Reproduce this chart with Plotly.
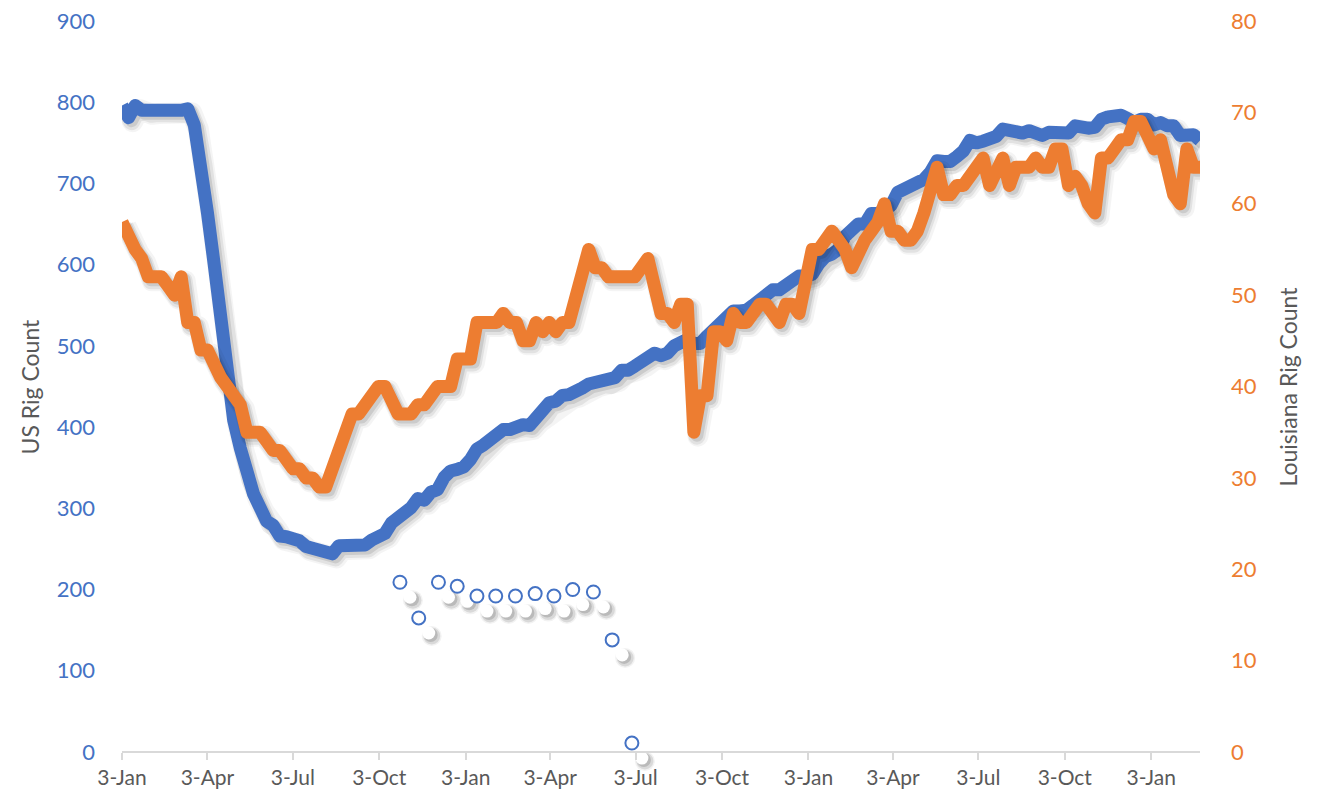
import pandas as pd
import plotly.graph_objects as go

# ---------------- data ----------------
start_date = "2020-01-03"
us_rigs = [
    796, 781, 796, 790, 790, 791, 790, 790, 790, 790, 792, 772, 728, 664, 602, 529,
    465, 408, 374, 339, 318, 301, 284, 279, 266, 265, 263, 260, 253, 251, 251, 247,
    244, 254, 254, 256, 256, 255, 261, 266, 269, 282, 287, 296, 301, 312, 310, 320,
    323, 338, 346, 348, 351, 360, 373, 378, 384, 392, 397, 397, 402, 403, 402, 411,
    417, 430, 432, 439, 440, 442, 448, 453, 455, 457, 456, 461, 470, 470, 475, 479,
    484, 491, 488, 491, 500, 503, 508, 503, 503, 512, 521, 528, 533, 543, 543, 544,
    550, 556, 563, 569, 569, 576, 579, 586, 586, 588, 601, 610, 613, 619, 635, 645,
    650, 650, 663, 663, 670, 673, 689, 693, 695, 698, 705, 714, 728, 727, 727, 733,
    740, 753, 750, 752, 756, 758, 767, 764, 763, 762, 765, 760, 759, 763, 764, 765,
    762, 771, 768, 768, 769, 779, 782, 784, 784, 780, 775, 779, 779, 772, 775, 771,
    771, 759, 761, 760, 753,
]
la_rigs = [
    58, 56, 55, 54, 52, 52, 52, 51, 50, 52, 47, 47, 44, 44, 42, 41,
    40, 39, 38, 35, 35, 35, 34, 33, 33, 32, 31, 31, 30, 30, 29, 29,
    31, 32, 34, 37, 37, 38, 39, 40, 40, 38, 37, 37, 37, 38, 38, 39,
    40, 40, 40, 43, 43, 43, 47, 47, 47, 47, 48, 47, 47, 45, 45, 47,
    46, 47, 46, 47, 47, 50, 53, 55, 53, 53, 52, 52, 52, 52, 52, 53,
    54, 51, 48, 48, 47, 49, 49, 35, 39, 39, 46, 46, 45, 48, 47, 47,
    48, 49, 49, 48, 47, 49, 49, 48, 51, 55, 55, 56, 57, 56, 55, 53,
    55, 56, 57, 58, 60, 57, 57, 56, 56, 57, 59, 62, 64, 61, 61, 62,
    62, 63, 64, 65, 62, 64, 65, 62, 64, 64, 64, 65, 64, 64, 66, 66,
    62, 63, 62, 60, 59, 65, 65, 66, 67, 67, 69, 69, 67, 66, 67, 64,
    61, 60, 66, 64, 64,
]
marker_dates = [
    "2020-10-25", "2020-11-14", "2020-12-05", "2020-12-25", "2021-01-15",
    "2021-02-04", "2021-02-25", "2021-03-18", "2021-04-07", "2021-04-27",
    "2021-05-19", "2021-06-08", "2021-06-29",
]
marker_values = [209, 165, 209, 204, 192, 192, 192, 195, 192, 200, 197, 138, 11]

tick_labels = ["3-Jan", "3-Apr", "3-Jul", "3-Oct", "3-Jan", "3-Apr", "3-Jul",
               "3-Oct", "3-Jan", "3-Apr", "3-Jul", "3-Oct", "3-Jan"]

# ---------------- styles ----------------
BLUE = "#4472C4"
ORANGE = "#ED7D31"
GREY_TXT = "#595959"
AXIS_GREY = "#D9D9D9"
FONT = "Lato, 'Open Sans', sans-serif"

PAGE_OFFSET = 8  # default body margin of the html page
W, H = 1317 - PAGE_OFFSET, 791 - PAGE_OFFSET
AXIS_H = 731        # pixel height from value 0 to the axis maximum
EXTRA_BOTTOM = 28   # plot area continues a little below the zero line
ML, MR, MT = 122 - PAGE_OFFSET, 117, 21 - PAGE_OFFSET
MB = H - MT - AXIS_H - EXTRA_BOTTOM
PW, PH = W - ML - MR, AXIS_H + EXTRA_BOTTOM
LINE_W = 13

dates = pd.date_range(start_date, periods=len(us_rigs), freq="7D")
tick_dates = pd.date_range(start_date, periods=len(tick_labels), freq=pd.DateOffset(months=3))
marker_dt = pd.to_datetime(marker_dates)

Y1_MAX, Y2_MAX = 900, 80
Y1_MIN = -EXTRA_BOTTOM * Y1_MAX / AXIS_H
Y2_MIN = -EXTRA_BOTTOM * Y2_MAX / AXIS_H
x_days = (dates[-1] - dates[0]).days
px_per_day = PW / x_days


def dx(px):
    return pd.Timedelta(days=px / px_per_day)


def dy(px, ymax):
    return px * ymax / AXIS_H


fig = go.Figure()


def add_line_with_shadow(x, y, color, yaxis, ymax):
    yv = pd.Series(y, dtype=float)
    for w, a, ox, oy in [(LINE_W + 8, 0.045, 4, 4), (LINE_W + 4, 0.07, 3, 4), (LINE_W, 0.10, 3, 3)]:
        fig.add_trace(go.Scatter(
            x=x + dx(ox), y=yv - dy(oy, ymax), mode="lines", yaxis=yaxis,
            line=dict(color=f"rgba(0,0,0,{a})", width=w),
            hoverinfo="skip", showlegend=False))
    fig.add_trace(go.Scatter(
        x=x, y=yv, mode="lines", yaxis=yaxis,
        line=dict(color=color, width=LINE_W), showlegend=False))


add_line_with_shadow(dates, us_rigs, BLUE, "y", Y1_MAX)
add_line_with_shadow(dates, la_rigs, ORANGE, "y2", Y2_MAX)

# marker series with offset white "shadow" dots
mv = pd.Series(marker_values, dtype=float)
wx = marker_dt + dx(10)
wy = mv - dy(15, Y1_MAX)
for s, a, ox, oy in [(20, 0.05, 3, 3), (17, 0.10, 3, 3), (14, 0.14, 2, 2)]:
    fig.add_trace(go.Scatter(
        x=wx + dx(ox), y=wy - dy(oy, Y1_MAX), mode="markers", cliponaxis=False,
        marker=dict(size=s, color=f"rgba(0,0,0,{a})", line=dict(width=0)),
        hoverinfo="skip", showlegend=False))
fig.add_trace(go.Scatter(
    x=wx, y=wy, mode="markers", cliponaxis=False,
    marker=dict(size=13, color="white", line=dict(width=0)),
    hoverinfo="skip", showlegend=False))
fig.add_trace(go.Scatter(
    x=marker_dt, y=mv, mode="markers", cliponaxis=False,
    marker=dict(size=13, color="white", line=dict(color=BLUE, width=2)),
    showlegend=False))

fig.update_layout(
    width=W, height=H,
    margin=dict(l=ML, r=MR, t=MT, b=MB, pad=0, autoexpand=False),
    paper_bgcolor="white", plot_bgcolor="white",
    font=dict(family=FONT, size=22, color=GREY_TXT),
    showlegend=False,
    xaxis=dict(
        range=[dates[0], dates[-1]], tickmode="array", tickvals=tick_dates,
        ticktext=tick_labels, showgrid=False, zeroline=False, automargin=False,
        anchor="free", position=EXTRA_BOTTOM / PH,
        showline=True, linecolor=AXIS_GREY, linewidth=1.5,
        ticks="outside", ticklen=7, tickwidth=1.5, tickcolor=AXIS_GREY,
        tickfont=dict(family=FONT, size=21, color=GREY_TXT),
        ticklabelstandoff=0, ticklabeloverflow="allow",
    ),
    yaxis=dict(
        range=[Y1_MIN, Y1_MAX], tick0=0, dtick=100, showgrid=False, zeroline=False,
        showline=False, ticks="", automargin=False,
        tickfont=dict(family=FONT, size=22, color=BLUE),
        ticklabelstandoff=26, ticklabeloverflow="allow",
    ),
    yaxis2=dict(
        range=[Y2_MIN, Y2_MAX], tick0=0, dtick=10, overlaying="y", side="right",
        showgrid=False, zeroline=False, showline=False, ticks="", automargin=False,
        tickfont=dict(family=FONT, size=22, color=ORANGE),
        ticklabelstandoff=30, ticklabeloverflow="allow",
    ),
    annotations=[
        dict(text="US Rig Count", xref="paper", yref="paper", x=0,
             y=(EXTRA_BOTTOM + AXIS_H / 2) / PH,
             xshift=-92, textangle=-90, showarrow=False,
             font=dict(family=FONT, size=23, color=GREY_TXT),
             xanchor="center", yanchor="middle"),
        dict(text="Louisiana Rig Count", xref="paper", yref="paper", x=1,
             y=(EXTRA_BOTTOM + AXIS_H / 2) / PH,
             xshift=88, textangle=-90, showarrow=False,
             font=dict(family=FONT, size=23, color=GREY_TXT),
             xanchor="center", yanchor="middle"),
    ],
)

round_joins = """
document.querySelectorAll('.scatterlayer .js-line').forEach(function(p){
  p.style.strokeLinejoin = 'round';
});
"""

fig.write_html("out.html", post_script=round_joins)
